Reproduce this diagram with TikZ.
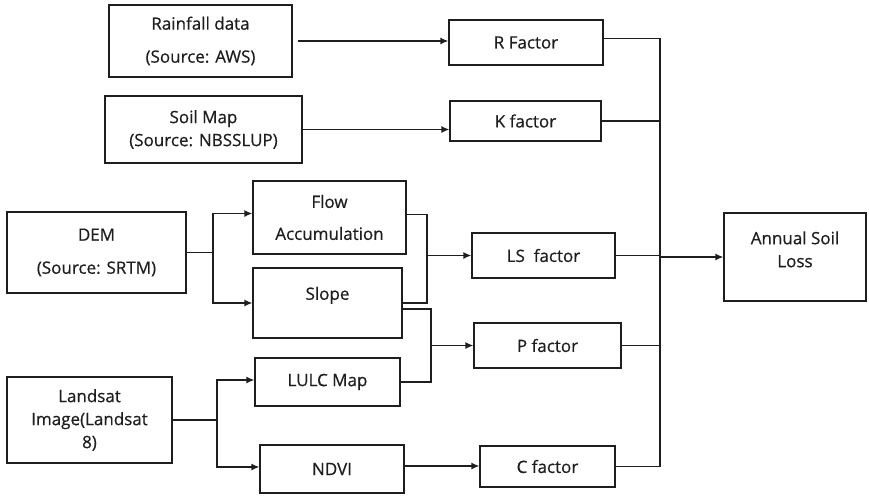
\documentclass[tikz,border=0pt]{standalone}
\usepackage{fontspec}
\setmainfont{Open Sans}[FakeBold=0.6,BoldFont={Open Sans}]
\usetikzlibrary{arrows.meta}
\definecolor{ink}{HTML}{1E1E1E}
\begin{document}
\begin{tikzpicture}[x=1pt,y=-1pt,
  font=\fontsize{17}{23}\selectfont\bfseries,
  every node/.style={text=ink, align=center},
  box/.style={draw=ink, line width=1.3pt, inner sep=0pt},
  link/.style={draw=ink, line width=1.3pt},
  flow/.style={link, -{Latex[length=8pt,width=7pt]}}]
\useasboundingbox (0,0) rectangle (869,495);

% data sources
\node[box, minimum width=183, minimum height=72] (rain) at (200.5,41) {Rainfall data\\[10pt](Source: AWS)};
\node[box, minimum width=197, minimum height=67] (soil) at (203.5,129.5) {Soil Map\\(Source: NBSSLUP)};
\node[box, minimum width=179, minimum height=81] (dem) at (96.5,252.5) {DEM\\[10pt](Source: SRTM)};
\node[box, minimum width=165, minimum height=86] (land) at (89.5,420) {Landsat\\Image(Landsat\\8)};

% derived layers
\node[box, minimum width=153, minimum height=73] (flowacc) at (329.5,217.5) {Flow\\[9pt]Accumulation};
\node[box, minimum width=149, minimum height=70] (slope) at (327.5,303) {};
\node at ([yshift=-28pt]slope.north) {Slope};
\node[box, minimum width=145, minimum height=48] (lulc) at (327.5,382) {LULC Map};
\node[box, minimum width=144, minimum height=48] (ndvi) at (332,469) {NDVI};

% RUSLE factors
\node[box, minimum width=154, minimum height=45] (rf) at (526,42.5) {R Factor};
\node[box, minimum width=151, minimum height=40] (kf) at (525.5,121) {K factor};
\node[box, minimum width=143, minimum height=45] (ls) at (543.5,255.5) {LS\ \ factor};
\node[box, minimum width=147, minimum height=45] (pf) at (547.5,345.5) {P factor};
\node[box, minimum width=135, minimum height=41] (cf) at (547.5,466.5) {C factor};

% result
\node[box, minimum width=142, minimum height=88] (asl) at (795,257) {};
\node at ([yshift=-37pt]asl.north) {Annual Soil\\Loss};

% junction columns
\coordinate (dsplit) at (213,0);
\coordinate (lsplit) at (217,0);
\coordinate (lsx) at (427,0);
\coordinate (px) at (431,0);
\coordinate (bus) at (660,0);

% inputs to factors
\draw[flow] ([xshift=5pt]rain.east) -- (rain.east -| rf.west);
\draw[flow] (soil.east) -- (soil.east -| kf.west);

% DEM branches
\draw[link] (dem.east) -- (dem.east -| dsplit);
\draw[flow] (dem.east -| dsplit) |- ([yshift=4pt]flowacc.west);
\draw[flow] (dem.east -| dsplit) |- (slope.west);

% LS factor from flow accumulation and slope
\draw[link] ([yshift=3pt]flowacc.east) -| (lsx |- slope.east) -- (slope.east);
\draw[flow] (ls.west -| lsx) -- (ls.west);

% P factor from slope and LULC
\draw[link] ([yshift=-6pt]slope.east) -| (px |- lulc.east) -- (lulc.east);
\draw[flow] (pf.west -| px) -- (pf.west);

% Landsat branches
\draw[link] (land.east) -- (land.east -| lsplit);
\draw[flow] (land.east -| lsplit) |- ([yshift=2pt]lulc.west);
\draw[flow] (land.east -| lsplit) |- ([yshift=2pt]ndvi.west);
\draw[flow] ([yshift=3pt]ndvi.east) -- ([yshift=3pt]ndvi.east -| cf.west);

% factors to soil loss
\draw[link] ([yshift=4pt]rf.east) -| (cf.east -| bus) -- (cf.east);
\draw[link] (kf.east) -- (kf.east -| bus);
\draw[link] (ls.east) -- (ls.east -| bus);
\draw[link] (pf.east) -- (pf.east -| bus);
\draw[flow] (asl.west -| bus) -- (asl.west);
\end{tikzpicture}
\end{document}
